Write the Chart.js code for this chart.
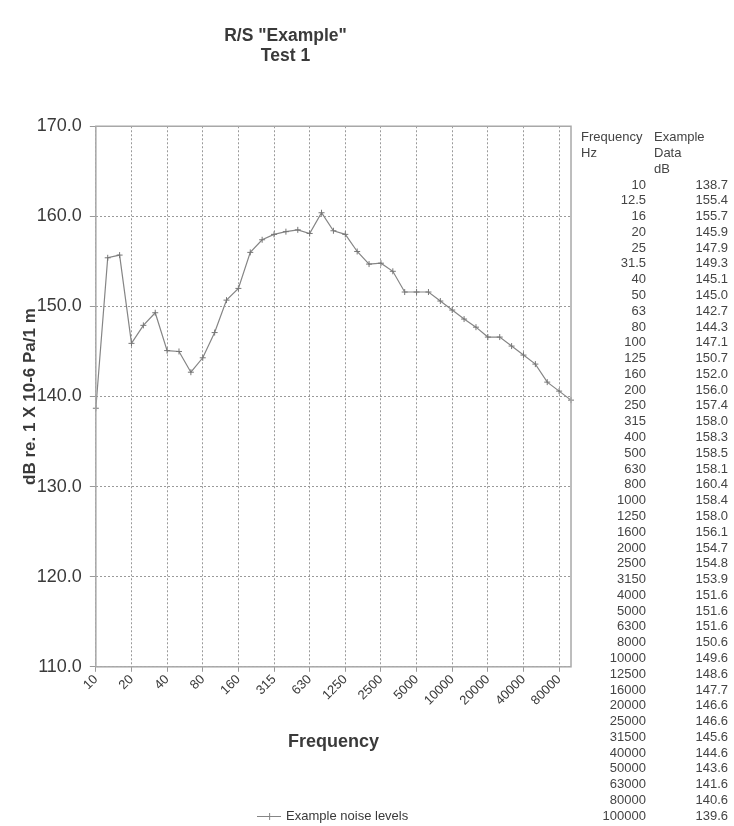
<!DOCTYPE html>
<html>
<head>
<meta charset="utf-8">
<title>R/S "Example" Test 1</title>
<script src="https://cdn.jsdelivr.net/npm/chart.js@4/dist/chart.umd.min.js"></script>
<style>
  html, body { margin: 0; padding: 0; background: #ffffff; }
  #wrap { width: 734px; height: 826px; }
</style>
</head>
<body>
<div id="wrap"><canvas id="c" width="734" height="826"></canvas></div>
<script>
// Third-octave band centre frequencies (Hz)
const frequencies = ['10','12.5','16','20','25','31.5','40','50','63','80',
  '100','125','160','200','250','315','400','500','630','800',
  '1000','1250','1600','2000','2500','3150','4000','5000','6300','8000',
  '10000','12500','16000','20000','25000','31500','40000','50000','63000','80000',
  '100000'];

// Measured levels, dB re. 1 x 10-6 Pa / 1 m
const levels = [138.7,155.4,155.7,145.9,147.9,149.3,145.1,145.0,142.7,144.3,
  147.1,150.7,152.0,156.0,157.4,158.0,158.3,158.5,158.1,160.4,
  158.4,158.0,156.1,154.7,154.8,153.9,151.6,151.6,151.6,150.6,
  149.6,148.6,147.7,146.6,146.6,145.6,144.6,143.6,141.6,140.6,
  139.6];

// Frequencies labelled on the horizontal axis
const axisTicks = ['10','20','40','80','160','315','630','1250','2500','5000',
  '10000','20000','40000','80000'];

// Vertical axis range and step
const yMin = 110, yMax = 170, yStep = 10;

const FONT = '"Liberation Sans", Arial, sans-serif';
const GRID = '#9a9a9a';
const INK = '#3a3a3a';
const LINE = '#858585';

// Legend sample: short line with a cross marker
function legendSample() {
  const cv = document.createElement('canvas');
  cv.width = 24; cv.height = 9;
  const g = cv.getContext('2d');
  g.strokeStyle = LINE; g.lineWidth = 1;
  g.beginPath(); g.moveTo(0, 4.5); g.lineTo(24, 4.5); g.stroke();
  g.beginPath(); g.moveTo(12.5, 1); g.lineTo(12.5, 8); g.stroke();
  return cv;
}

// Box around the plotting area
const frameBox = {
  id: 'frameBox',
  afterDatasetsDraw(chart) {
    const a = chart.chartArea, ctx = chart.ctx;
    ctx.save();
    ctx.strokeStyle = '#a8a8a8';
    ctx.lineWidth = 1.5;
    ctx.strokeRect(a.left, a.top, a.right - a.left, a.bottom - a.top);
    ctx.restore();
  }
};

// Frequency / level table to the right of the plot
const dataTable = {
  id: 'dataTable',
  afterDraw(chart) {
    const ctx = chart.ctx;
    ctx.save();
    ctx.fillStyle = '#444';
    ctx.font = '13px ' + FONT;
    ctx.textBaseline = 'middle';
    ctx.textAlign = 'left';
    ctx.fillText('Frequency', 581, 137);
    ctx.fillText('Example', 654, 137);
    ctx.fillText('Hz', 581, 153);
    ctx.fillText('Data', 654, 153);
    ctx.fillText('dB', 654, 169);
    ctx.textAlign = 'right';
    const top = 185, step = 15.78;
    frequencies.forEach((f, i) => {
      const y = top + i * step;
      ctx.fillText(f, 646, y);
      ctx.fillText(levels[i].toFixed(1), 728, y);
    });
    ctx.restore();
  }
};

new Chart(document.getElementById('c'), {
  type: 'line',
  data: {
    labels: frequencies,
    datasets: [{
      label: 'Example noise levels',
      data: levels,
      borderColor: LINE,
      borderWidth: 1.2,
      backgroundColor: LINE,
      pointStyle: 'cross',
      pointRadius: 3,
      pointBorderWidth: 1,
      pointBorderColor: '#777',
      tension: 0,
      fill: false
    }]
  },
  options: {
    responsive: false,
    animation: false,
    layout: { padding: { left: 0, right: 163, top: 0, bottom: -7 } },
    plugins: {
      title: {
        display: true,
        text: ['R/S "Example"', 'Test 1'],
        color: INK,
        font: { family: FONT, size: 17.5, weight: 'bold', lineHeight: 1.15 },
        padding: { top: 26, bottom: 60 }
      },
      legend: {
        position: 'bottom',
        fullSize: false,
        labels: {
          color: INK,
          font: { family: FONT, size: 13 },
          usePointStyle: true,
          pointStyleWidth: 21,
          padding: 2,
          generateLabels(chart) {
            return chart.data.datasets.map((ds, i) => ({
              text: ds.label,
              datasetIndex: i,
              pointStyle: legendSample(),
              fillStyle: LINE,
              strokeStyle: LINE,
              lineWidth: 1,
              fontColor: INK
            }));
          }
        }
      },
      tooltip: { enabled: false }
    },
    scales: {
      x: {
        type: 'category',
        offset: false,
        grid: {
          color: (c) => (c.index % 3 === 0 ? GRID : 'rgba(0,0,0,0)'),
          lineWidth: 1,
          tickLength: 5
        },
        border: { display: false, dash: [2, 2] },
        ticks: {
          autoSkip: false,
          minRotation: 45,
          maxRotation: 45,
          padding: 0,
          color: INK,
          font: { family: FONT, size: 13 },
          callback(v, i) {
            const lab = frequencies[i];
            return axisTicks.includes(lab) ? lab : '';
          }
        },
        title: {
          display: true,
          text: 'Frequency',
          color: INK,
          font: { family: FONT, size: 18, weight: 'bold' },
          padding: { top: 23, bottom: 55 }
        }
      },
      y: {
        min: yMin,
        max: yMax,
        grid: { color: GRID, lineWidth: 1, tickLength: 6 },
        border: { display: false, dash: [2, 2] },
        ticks: {
          stepSize: yStep,
          padding: 8,
          color: INK,
          font: { family: FONT, size: 18 },
          callback: (v) => Number(v).toFixed(1)
        },
        title: {
          display: true,
          text: 'dB re. 1 X 10-6 Pa/1 m',
          color: INK,
          font: { family: FONT, size: 17, weight: 'bold' },
          padding: { top: 19.8, bottom: -11.4 }
        }
      }
    }
  },
  plugins: [frameBox, dataTable]
});
</script>
</body>
</html>
